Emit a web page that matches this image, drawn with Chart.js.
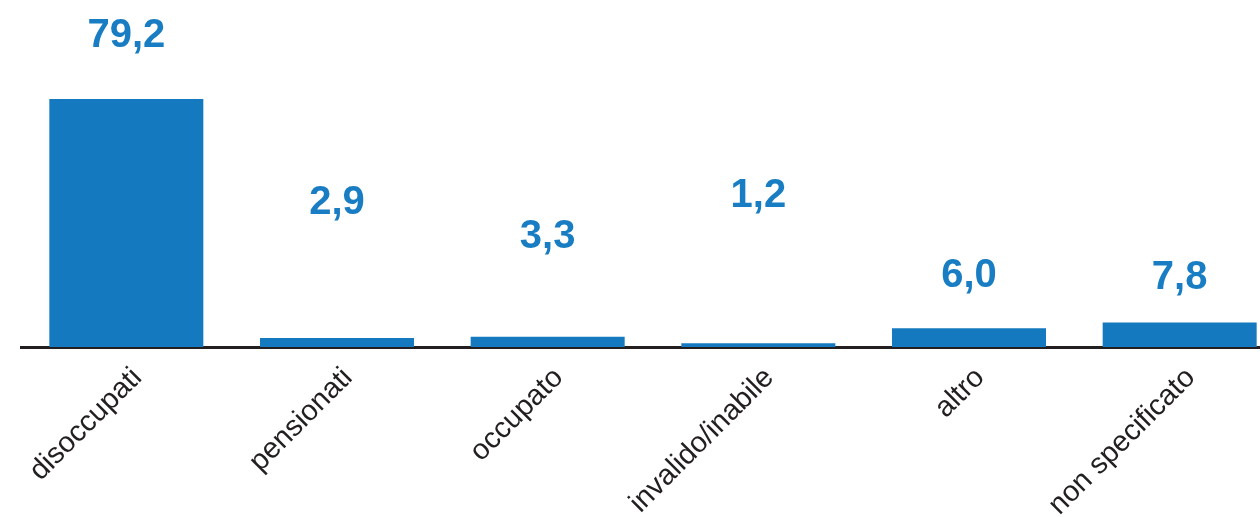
<!DOCTYPE html>
<html>
<head>
<meta charset="utf-8">
<script src="https://cdn.jsdelivr.net/npm/chart.js@4"></script>
<style>
  html, body { margin: 0; padding: 0; background: #ffffff; overflow: hidden; }
  #wrap { position: relative; width: 1290px; height: 517px; }
</style>
</head>
<body>
<div id="wrap"><canvas id="chart"></canvas></div>
<script>
// Condizione professionale (%)
const categories = ['disoccupati', 'pensionati', 'occupato', 'invalido/inabile', 'altro', 'non specificato'];
const shares = [79.2, 2.9, 3.3, 1.2, 6.0, 7.8];

const BAR_BLUE = '#1479be';
const LABEL_BLUE = '#187dc2';
const INK = '#231f20';

const fmt = v => v.toFixed(1).replace('.', ',');

// Writes each bar's value at the height given (in y-axis units) for that column
const valueTags = {
  id: 'valueTags',
  afterDatasetsDraw(chart, args, opts) {
    const { ctx } = chart;
    const yScale = chart.scales.y;
    const meta = chart.getDatasetMeta(0);
    const data = chart.data.datasets[0].data;
    ctx.save();
    ctx.font = opts.font;
    ctx.fillStyle = opts.color;
    ctx.textAlign = 'center';
    ctx.textBaseline = 'middle';
    meta.data.forEach((bar, i) => {
      ctx.fillText(fmt(data[i]), bar.x, yScale.getPixelForValue(opts.levels[i]));
    });
    ctx.restore();
  }
};

new Chart(document.getElementById('chart'), {
  type: 'bar',
  data: {
    labels: categories,
    datasets: [{
      data: shares,
      backgroundColor: BAR_BLUE,
      borderWidth: 0,
      categoryPercentage: 1.0,
      barPercentage: 0.731
    }]
  },
  options: {
    responsive: true,
    maintainAspectRatio: false,
    animation: false,
    events: [],
    layout: { padding: { top: 34, left: 21, right: 5, bottom: 0 } },
    plugins: {
      legend: { display: false },
      tooltip: { enabled: false },
      valueTags: {
        font: 'bold 40px "Liberation Sans", Arial, sans-serif',
        color: LABEL_BLUE,
        levels: [99.45, 45.95, 35.15, 48.25, 22.65, 22.05]
      }
    },
    scales: {
      x: {
        grid: { display: false, drawTicks: false },
        border: { display: true, color: INK, width: 3 },
        ticks: {
          autoSkip: false,
          minRotation: 45,
          maxRotation: 45,
          padding: 14,
          labelOffset: 11,
          color: INK,
          font: { family: '"Liberation Sans", Arial, sans-serif', size: 29 }
        },
        afterFit(scale) {
          scale.height = 170;
          scale.paddingLeft = 0;
          scale.paddingRight = 0;
        }
      },
      y: {
        display: false,
        min: 0,
        max: 100
      }
    }
  },
  plugins: [valueTags]
});
</script>
</body>
</html>
